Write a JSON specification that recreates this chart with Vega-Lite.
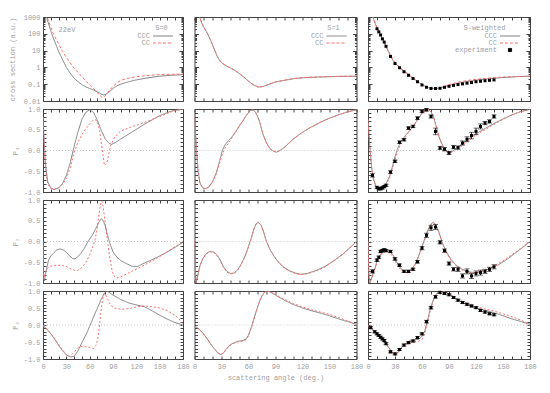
{
"$schema": "https://vega.github.io/schema/vega-lite/v6.json",
"background": "white",
"padding": {"left": 7, "top": 12, "right": 5, "bottom": 5},
"config": {
 "view": {"stroke": "#444", "strokeWidth": 1},
 "axis": {"labelFont": "Liberation Mono", "labelFontSize": 7, "labelColor": "#a0a0a0", "titleFont": "Liberation Mono", "titleFontSize": 7, "titleColor": "#a0a0a0", "titleFontWeight": "normal", "tickColor": "#444", "tickSize": -3, "domain": false, "grid": false, "labelPadding": 6, "labelFlush": false, "labelOverlap": false},
 "legend": {"orient": "top-right", "offset": 7, "padding": 0, "rowPadding": 0, "titleFont": "Liberation Mono", "titleFontSize": 7, "titleFontWeight": "normal", "titleColor": "#a0a0a0", "titleAnchor": "middle", "titlePadding": 1, "labelFont": "Liberation Mono", "labelFontSize": 7, "labelColor": "#a0a0a0", "labelAlign": "right", "labelOffset": -17, "symbolSize": 49, "symbolStrokeWidth": 1}
},
"datasets": {
 "cs0": [
  {"angle":0,"value":3000,"model":"CCC"},{"angle":3,"value":1500,"model":"CCC"},{"angle":5,"value":800,"model":"CCC"},{"angle":8,"value":300,"model":"CCC"},{"angle":10,"value":150,"model":"CCC"},{"angle":13,"value":60,"model":"CCC"},{"angle":15,"value":35,"model":"CCC"},{"angle":18,"value":16,"model":"CCC"},{"angle":20,"value":9,"model":"CCC"},{"angle":25,"value":3,"model":"CCC"},{"angle":30,"value":1.0,"model":"CCC"},{"angle":35,"value":0.45,"model":"CCC"},{"angle":40,"value":0.23,"model":"CCC"},{"angle":45,"value":0.14,"model":"CCC"},{"angle":50,"value":0.095,"model":"CCC"},{"angle":55,"value":0.07,"model":"CCC"},{"angle":60,"value":0.055,"model":"CCC"},{"angle":65,"value":0.045,"model":"CCC"},{"angle":70,"value":0.035,"model":"CCC"},{"angle":75,"value":0.026,"model":"CCC"},{"angle":78,"value":0.023,"model":"CCC"},{"angle":81,"value":0.025,"model":"CCC"},{"angle":85,"value":0.035,"model":"CCC"},{"angle":90,"value":0.055,"model":"CCC"},{"angle":95,"value":0.08,"model":"CCC"},{"angle":100,"value":0.1,"model":"CCC"},{"angle":110,"value":0.14,"model":"CCC"},{"angle":120,"value":0.18,"model":"CCC"},{"angle":135,"value":0.24,"model":"CCC"},{"angle":150,"value":0.3,"model":"CCC"},{"angle":165,"value":0.34,"model":"CCC"},{"angle":180,"value":0.37,"model":"CCC"},
  {"angle":0,"value":3000,"model":"CC"},{"angle":3,"value":1800,"model":"CC"},{"angle":5,"value":1000,"model":"CC"},{"angle":8,"value":450,"model":"CC"},{"angle":10,"value":250,"model":"CC"},{"angle":13,"value":110,"model":"CC"},{"angle":15,"value":70,"model":"CC"},{"angle":18,"value":38,"model":"CC"},{"angle":20,"value":25,"model":"CC"},{"angle":25,"value":9,"model":"CC"},{"angle":30,"value":4,"model":"CC"},{"angle":35,"value":1.8,"model":"CC"},{"angle":40,"value":0.9,"model":"CC"},{"angle":45,"value":0.5,"model":"CC"},{"angle":50,"value":0.28,"model":"CC"},{"angle":55,"value":0.16,"model":"CC"},{"angle":60,"value":0.09,"model":"CC"},{"angle":65,"value":0.055,"model":"CC"},{"angle":70,"value":0.032,"model":"CC"},{"angle":73,"value":0.022,"model":"CC"},{"angle":76,"value":0.016,"model":"CC"},{"angle":79,"value":0.018,"model":"CC"},{"angle":83,"value":0.03,"model":"CC"},{"angle":88,"value":0.06,"model":"CC"},{"angle":95,"value":0.12,"model":"CC"},{"angle":100,"value":0.17,"model":"CC"},{"angle":110,"value":0.23,"model":"CC"},{"angle":120,"value":0.28,"model":"CC"},{"angle":135,"value":0.33,"model":"CC"},{"angle":150,"value":0.37,"model":"CC"},{"angle":165,"value":0.39,"model":"CC"},{"angle":180,"value":0.4,"model":"CC"}
 ],
 "cs1": [
  {"angle":0,"value":5000,"model":"CCC"},{"angle":3,"value":2500,"model":"CCC"},{"angle":5,"value":1200,"model":"CCC"},{"angle":8,"value":450,"model":"CCC"},{"angle":10,"value":260,"model":"CCC"},{"angle":13,"value":140,"model":"CCC"},{"angle":15,"value":90,"model":"CCC"},{"angle":18,"value":40,"model":"CCC"},{"angle":20,"value":22,"model":"CCC"},{"angle":23,"value":9,"model":"CCC"},{"angle":25,"value":4.8,"model":"CCC"},{"angle":28,"value":2.6,"model":"CCC"},{"angle":30,"value":1.9,"model":"CCC"},{"angle":35,"value":1.25,"model":"CCC"},{"angle":40,"value":0.92,"model":"CCC"},{"angle":45,"value":0.65,"model":"CCC"},{"angle":50,"value":0.42,"model":"CCC"},{"angle":55,"value":0.26,"model":"CCC"},{"angle":60,"value":0.15,"model":"CCC"},{"angle":65,"value":0.095,"model":"CCC"},{"angle":70,"value":0.07,"model":"CCC"},{"angle":73,"value":0.068,"model":"CCC"},{"angle":77,"value":0.075,"model":"CCC"},{"angle":82,"value":0.095,"model":"CCC"},{"angle":90,"value":0.135,"model":"CCC"},{"angle":100,"value":0.17,"model":"CCC"},{"angle":112,"value":0.22,"model":"CCC"},{"angle":125,"value":0.25,"model":"CCC"},{"angle":140,"value":0.27,"model":"CCC"},{"angle":160,"value":0.29,"model":"CCC"},{"angle":180,"value":0.3,"model":"CCC"},
  {"angle":0,"value":5000,"model":"CC"},{"angle":3,"value":2500,"model":"CC"},{"angle":5,"value":1200,"model":"CC"},{"angle":8,"value":460,"model":"CC"},{"angle":10,"value":265,"model":"CC"},{"angle":13,"value":142,"model":"CC"},{"angle":15,"value":92,"model":"CC"},{"angle":18,"value":41,"model":"CC"},{"angle":20,"value":22,"model":"CC"},{"angle":23,"value":9.2,"model":"CC"},{"angle":25,"value":4.9,"model":"CC"},{"angle":28,"value":2.65,"model":"CC"},{"angle":30,"value":1.95,"model":"CC"},{"angle":35,"value":1.28,"model":"CC"},{"angle":40,"value":0.94,"model":"CC"},{"angle":45,"value":0.66,"model":"CC"},{"angle":50,"value":0.43,"model":"CC"},{"angle":55,"value":0.26,"model":"CC"},{"angle":60,"value":0.15,"model":"CC"},{"angle":65,"value":0.095,"model":"CC"},{"angle":70,"value":0.07,"model":"CC"},{"angle":73,"value":0.068,"model":"CC"},{"angle":77,"value":0.076,"model":"CC"},{"angle":82,"value":0.097,"model":"CC"},{"angle":90,"value":0.138,"model":"CC"},{"angle":100,"value":0.175,"model":"CC"},{"angle":112,"value":0.225,"model":"CC"},{"angle":125,"value":0.255,"model":"CC"},{"angle":140,"value":0.275,"model":"CC"},{"angle":160,"value":0.295,"model":"CC"},{"angle":180,"value":0.3,"model":"CC"}
 ],
 "csw": [
  {"angle":0,"value":4000,"model":"CCC"},{"angle":3,"value":2200,"model":"CCC"},{"angle":5,"value":1100,"model":"CCC"},{"angle":8,"value":400,"model":"CCC"},{"angle":10,"value":220,"model":"CCC"},{"angle":13,"value":110,"model":"CCC"},{"angle":15,"value":65,"model":"CCC"},{"angle":18,"value":30,"model":"CCC"},{"angle":20,"value":17,"model":"CCC"},{"angle":23,"value":8,"model":"CCC"},{"angle":25,"value":4.8,"model":"CCC"},{"angle":28,"value":2.5,"model":"CCC"},{"angle":30,"value":1.8,"model":"CCC"},{"angle":35,"value":0.98,"model":"CCC"},{"angle":40,"value":0.58,"model":"CCC"},{"angle":45,"value":0.37,"model":"CCC"},{"angle":50,"value":0.23,"model":"CCC"},{"angle":55,"value":0.145,"model":"CCC"},{"angle":60,"value":0.095,"model":"CCC"},{"angle":65,"value":0.068,"model":"CCC"},{"angle":70,"value":0.057,"model":"CCC"},{"angle":75,"value":0.055,"model":"CCC"},{"angle":80,"value":0.06,"model":"CCC"},{"angle":85,"value":0.07,"model":"CCC"},{"angle":90,"value":0.085,"model":"CCC"},{"angle":100,"value":0.115,"model":"CCC"},{"angle":110,"value":0.145,"model":"CCC"},{"angle":120,"value":0.175,"model":"CCC"},{"angle":135,"value":0.215,"model":"CCC"},{"angle":150,"value":0.25,"model":"CCC"},{"angle":165,"value":0.28,"model":"CCC"},{"angle":180,"value":0.3,"model":"CCC"},
  {"angle":0,"value":4000,"model":"CC"},{"angle":3,"value":2300,"model":"CC"},{"angle":5,"value":1200,"model":"CC"},{"angle":8,"value":450,"model":"CC"},{"angle":10,"value":250,"model":"CC"},{"angle":13,"value":120,"model":"CC"},{"angle":15,"value":72,"model":"CC"},{"angle":18,"value":34,"model":"CC"},{"angle":20,"value":19,"model":"CC"},{"angle":23,"value":9,"model":"CC"},{"angle":25,"value":5.3,"model":"CC"},{"angle":28,"value":2.8,"model":"CC"},{"angle":30,"value":2.0,"model":"CC"},{"angle":35,"value":1.05,"model":"CC"},{"angle":40,"value":0.62,"model":"CC"},{"angle":45,"value":0.39,"model":"CC"},{"angle":50,"value":0.24,"model":"CC"},{"angle":55,"value":0.15,"model":"CC"},{"angle":60,"value":0.095,"model":"CC"},{"angle":65,"value":0.066,"model":"CC"},{"angle":70,"value":0.055,"model":"CC"},{"angle":75,"value":0.054,"model":"CC"},{"angle":80,"value":0.062,"model":"CC"},{"angle":85,"value":0.075,"model":"CC"},{"angle":90,"value":0.095,"model":"CC"},{"angle":100,"value":0.13,"model":"CC"},{"angle":110,"value":0.165,"model":"CC"},{"angle":120,"value":0.195,"model":"CC"},{"angle":135,"value":0.235,"model":"CC"},{"angle":150,"value":0.265,"model":"CC"},{"angle":165,"value":0.285,"model":"CC"},{"angle":180,"value":0.3,"model":"CC"}
 ],
 "ex_cs": [
  {"angle":10,"value":200},{"angle":12,"value":130},{"angle":14,"value":85},{"angle":16,"value":50},{"angle":18,"value":32},{"angle":20,"value":18},{"angle":25,"value":4.5},{"angle":30,"value":1.7},{"angle":35,"value":0.95},{"angle":40,"value":0.55},{"angle":45,"value":0.34},{"angle":50,"value":0.22},{"angle":55,"value":0.14},{"angle":60,"value":0.09},{"angle":65,"value":0.066},{"angle":70,"value":0.056},{"angle":75,"value":0.055},{"angle":80,"value":0.057},{"angle":85,"value":0.065},{"angle":90,"value":0.075},{"angle":95,"value":0.085},{"angle":100,"value":0.095},{"angle":105,"value":0.105},{"angle":110,"value":0.115},{"angle":115,"value":0.125},{"angle":120,"value":0.14},{"angle":125,"value":0.15},{"angle":130,"value":0.16},{"angle":135,"value":0.17},{"angle":140,"value":0.18}
 ],
 "p1_0": [
  {"angle":0,"value":0.8,"model":"CCC"},{"angle":3,"value":-0.3,"model":"CCC"},{"angle":6,"value":-0.75,"model":"CCC"},{"angle":10,"value":-0.9,"model":"CCC"},{"angle":14,"value":-0.94,"model":"CCC"},{"angle":20,"value":-0.9,"model":"CCC"},{"angle":25,"value":-0.8,"model":"CCC"},{"angle":30,"value":-0.6,"model":"CCC"},{"angle":35,"value":-0.3,"model":"CCC"},{"angle":40,"value":0.1,"model":"CCC"},{"angle":45,"value":0.45,"model":"CCC"},{"angle":50,"value":0.75,"model":"CCC"},{"angle":55,"value":0.92,"model":"CCC"},{"angle":60,"value":0.98,"model":"CCC"},{"angle":65,"value":0.92,"model":"CCC"},{"angle":70,"value":0.72,"model":"CCC"},{"angle":75,"value":0.48,"model":"CCC"},{"angle":80,"value":0.28,"model":"CCC"},{"angle":85,"value":0.17,"model":"CCC"},{"angle":88,"value":0.15,"model":"CCC"},{"angle":92,"value":0.18,"model":"CCC"},{"angle":100,"value":0.28,"model":"CCC"},{"angle":115,"value":0.45,"model":"CCC"},{"angle":130,"value":0.63,"model":"CCC"},{"angle":150,"value":0.84,"model":"CCC"},{"angle":165,"value":0.95,"model":"CCC"},{"angle":180,"value":1.0,"model":"CCC"},
  {"angle":0,"value":0.8,"model":"CC"},{"angle":3,"value":-0.4,"model":"CC"},{"angle":6,"value":-0.8,"model":"CC"},{"angle":10,"value":-0.92,"model":"CC"},{"angle":14,"value":-0.94,"model":"CC"},{"angle":20,"value":-0.9,"model":"CC"},{"angle":25,"value":-0.82,"model":"CC"},{"angle":30,"value":-0.68,"model":"CC"},{"angle":35,"value":-0.42,"model":"CC"},{"angle":40,"value":-0.05,"model":"CC"},{"angle":45,"value":0.2,"model":"CC"},{"angle":50,"value":0.38,"model":"CC"},{"angle":55,"value":0.52,"model":"CC"},{"angle":60,"value":0.64,"model":"CC"},{"angle":65,"value":0.74,"model":"CC"},{"angle":68,"value":0.74,"model":"CC"},{"angle":71,"value":0.62,"model":"CC"},{"angle":73,"value":0.45,"model":"CC"},{"angle":76,"value":0.05,"model":"CC"},{"angle":79,"value":-0.36,"model":"CC"},{"angle":82,"value":-0.3,"model":"CC"},{"angle":87,"value":0.12,"model":"CC"},{"angle":92,"value":0.32,"model":"CC"},{"angle":100,"value":0.47,"model":"CC"},{"angle":115,"value":0.58,"model":"CC"},{"angle":130,"value":0.67,"model":"CC"},{"angle":150,"value":0.82,"model":"CC"},{"angle":165,"value":0.93,"model":"CC"},{"angle":180,"value":1.0,"model":"CC"}
 ],
 "p1_1": [
  {"angle":0,"value":0.8,"model":"CCC"},{"angle":2,"value":0.1,"model":"CCC"},{"angle":4,"value":-0.5,"model":"CCC"},{"angle":6,"value":-0.78,"model":"CCC"},{"angle":9,"value":-0.9,"model":"CCC"},{"angle":12,"value":-0.92,"model":"CCC"},{"angle":16,"value":-0.88,"model":"CCC"},{"angle":20,"value":-0.75,"model":"CCC"},{"angle":24,"value":-0.55,"model":"CCC"},{"angle":28,"value":-0.25,"model":"CCC"},{"angle":31,"value":0.0,"model":"CCC"},{"angle":34,"value":0.14,"model":"CCC"},{"angle":38,"value":0.24,"model":"CCC"},{"angle":42,"value":0.34,"model":"CCC"},{"angle":46,"value":0.46,"model":"CCC"},{"angle":50,"value":0.6,"model":"CCC"},{"angle":54,"value":0.72,"model":"CCC"},{"angle":58,"value":0.86,"model":"CCC"},{"angle":62,"value":0.96,"model":"CCC"},{"angle":65,"value":0.98,"model":"CCC"},{"angle":68,"value":0.92,"model":"CCC"},{"angle":72,"value":0.72,"model":"CCC"},{"angle":76,"value":0.4,"model":"CCC"},{"angle":80,"value":0.18,"model":"CCC"},{"angle":84,"value":0.04,"model":"CCC"},{"angle":88,"value":-0.02,"model":"CCC"},{"angle":91,"value":-0.04,"model":"CCC"},{"angle":95,"value":0.0,"model":"CCC"},{"angle":100,"value":0.08,"model":"CCC"},{"angle":110,"value":0.28,"model":"CCC"},{"angle":120,"value":0.44,"model":"CCC"},{"angle":130,"value":0.57,"model":"CCC"},{"angle":140,"value":0.68,"model":"CCC"},{"angle":150,"value":0.78,"model":"CCC"},{"angle":160,"value":0.86,"model":"CCC"},{"angle":170,"value":0.93,"model":"CCC"},{"angle":180,"value":0.98,"model":"CCC"},
  {"angle":0,"value":0.8,"model":"CC"},{"angle":2,"value":0.1,"model":"CC"},{"angle":4,"value":-0.5,"model":"CC"},{"angle":6,"value":-0.78,"model":"CC"},{"angle":9,"value":-0.9,"model":"CC"},{"angle":12,"value":-0.92,"model":"CC"},{"angle":16,"value":-0.88,"model":"CC"},{"angle":20,"value":-0.76,"model":"CC"},{"angle":24,"value":-0.58,"model":"CC"},{"angle":28,"value":-0.3,"model":"CC"},{"angle":31,"value":-0.08,"model":"CC"},{"angle":34,"value":0.06,"model":"CC"},{"angle":38,"value":0.18,"model":"CC"},{"angle":42,"value":0.32,"model":"CC"},{"angle":46,"value":0.46,"model":"CC"},{"angle":50,"value":0.6,"model":"CC"},{"angle":54,"value":0.72,"model":"CC"},{"angle":58,"value":0.86,"model":"CC"},{"angle":62,"value":0.96,"model":"CC"},{"angle":65,"value":0.98,"model":"CC"},{"angle":68,"value":0.92,"model":"CC"},{"angle":72,"value":0.72,"model":"CC"},{"angle":76,"value":0.4,"model":"CC"},{"angle":80,"value":0.18,"model":"CC"},{"angle":84,"value":0.04,"model":"CC"},{"angle":88,"value":-0.02,"model":"CC"},{"angle":91,"value":-0.04,"model":"CC"},{"angle":95,"value":0.0,"model":"CC"},{"angle":100,"value":0.08,"model":"CC"},{"angle":110,"value":0.28,"model":"CC"},{"angle":120,"value":0.44,"model":"CC"},{"angle":130,"value":0.57,"model":"CC"},{"angle":140,"value":0.68,"model":"CC"},{"angle":150,"value":0.78,"model":"CC"},{"angle":160,"value":0.86,"model":"CC"},{"angle":170,"value":0.93,"model":"CC"},{"angle":180,"value":0.98,"model":"CC"}
 ],
 "p1_w": [
  {"angle":0,"value":0.75,"model":"CCC"},{"angle":2,"value":0.1,"model":"CCC"},{"angle":4,"value":-0.4,"model":"CCC"},{"angle":6,"value":-0.68,"model":"CCC"},{"angle":9,"value":-0.87,"model":"CCC"},{"angle":12,"value":-0.92,"model":"CCC"},{"angle":16,"value":-0.91,"model":"CCC"},{"angle":20,"value":-0.8,"model":"CCC"},{"angle":24,"value":-0.62,"model":"CCC"},{"angle":27,"value":-0.4,"model":"CCC"},{"angle":30,"value":-0.15,"model":"CCC"},{"angle":33,"value":0.05,"model":"CCC"},{"angle":36,"value":0.2,"model":"CCC"},{"angle":40,"value":0.32,"model":"CCC"},{"angle":45,"value":0.45,"model":"CCC"},{"angle":50,"value":0.58,"model":"CCC"},{"angle":55,"value":0.74,"model":"CCC"},{"angle":60,"value":0.9,"model":"CCC"},{"angle":64,"value":0.98,"model":"CCC"},{"angle":67,"value":0.99,"model":"CCC"},{"angle":70,"value":0.93,"model":"CCC"},{"angle":73,"value":0.8,"model":"CCC"},{"angle":76,"value":0.56,"model":"CCC"},{"angle":79,"value":0.32,"model":"CCC"},{"angle":83,"value":0.12,"model":"CCC"},{"angle":87,"value":0.0,"model":"CCC"},{"angle":90,"value":-0.04,"model":"CCC"},{"angle":94,"value":-0.02,"model":"CCC"},{"angle":98,"value":0.05,"model":"CCC"},{"angle":105,"value":0.16,"model":"CCC"},{"angle":113,"value":0.3,"model":"CCC"},{"angle":120,"value":0.4,"model":"CCC"},{"angle":130,"value":0.53,"model":"CCC"},{"angle":140,"value":0.65,"model":"CCC"},{"angle":150,"value":0.76,"model":"CCC"},{"angle":160,"value":0.86,"model":"CCC"},{"angle":170,"value":0.94,"model":"CCC"},{"angle":180,"value":0.99,"model":"CCC"},
  {"angle":0,"value":0.75,"model":"CC"},{"angle":2,"value":0.1,"model":"CC"},{"angle":4,"value":-0.42,"model":"CC"},{"angle":6,"value":-0.7,"model":"CC"},{"angle":9,"value":-0.88,"model":"CC"},{"angle":12,"value":-0.93,"model":"CC"},{"angle":16,"value":-0.92,"model":"CC"},{"angle":20,"value":-0.83,"model":"CC"},{"angle":24,"value":-0.66,"model":"CC"},{"angle":27,"value":-0.45,"model":"CC"},{"angle":30,"value":-0.22,"model":"CC"},{"angle":33,"value":-0.02,"model":"CC"},{"angle":36,"value":0.14,"model":"CC"},{"angle":40,"value":0.28,"model":"CC"},{"angle":45,"value":0.43,"model":"CC"},{"angle":50,"value":0.57,"model":"CC"},{"angle":55,"value":0.73,"model":"CC"},{"angle":60,"value":0.89,"model":"CC"},{"angle":64,"value":0.97,"model":"CC"},{"angle":67,"value":0.99,"model":"CC"},{"angle":70,"value":0.94,"model":"CC"},{"angle":73,"value":0.82,"model":"CC"},{"angle":76,"value":0.58,"model":"CC"},{"angle":79,"value":0.33,"model":"CC"},{"angle":83,"value":0.1,"model":"CC"},{"angle":87,"value":-0.03,"model":"CC"},{"angle":90,"value":-0.06,"model":"CC"},{"angle":94,"value":-0.04,"model":"CC"},{"angle":98,"value":0.02,"model":"CC"},{"angle":105,"value":0.12,"model":"CC"},{"angle":113,"value":0.26,"model":"CC"},{"angle":120,"value":0.37,"model":"CC"},{"angle":130,"value":0.5,"model":"CC"},{"angle":140,"value":0.63,"model":"CC"},{"angle":150,"value":0.75,"model":"CC"},{"angle":160,"value":0.86,"model":"CC"},{"angle":170,"value":0.94,"model":"CC"},{"angle":180,"value":0.99,"model":"CC"}
 ],
 "ex_p1": [
  {"angle":5,"value":-0.6,"err":0.04},{"angle":10,"value":-0.89,"err":0.03},{"angle":12,"value":-0.92,"err":0.03},{"angle":14,"value":-0.92,"err":0.03},{"angle":16,"value":-0.9,"err":0.03},{"angle":18,"value":-0.87,"err":0.03},{"angle":20,"value":-0.84,"err":0.03},{"angle":25,"value":-0.52,"err":0.03},{"angle":30,"value":-0.26,"err":0.03},{"angle":35,"value":0.2,"err":0.03},{"angle":40,"value":0.26,"err":0.03},{"angle":45,"value":0.54,"err":0.03},{"angle":50,"value":0.58,"err":0.03},{"angle":55,"value":0.78,"err":0.03},{"angle":60,"value":0.94,"err":0.03},{"angle":65,"value":0.98,"err":0.03},{"angle":70,"value":0.82,"err":0.04},{"angle":75,"value":0.46,"err":0.08},{"angle":80,"value":0.06,"err":0.04},{"angle":85,"value":0.03,"err":0.04},{"angle":90,"value":-0.06,"err":0.04},{"angle":95,"value":0.08,"err":0.04},{"angle":100,"value":0.07,"err":0.04},{"angle":105,"value":0.18,"err":0.05},{"angle":110,"value":0.27,"err":0.06},{"angle":115,"value":0.36,"err":0.08},{"angle":120,"value":0.46,"err":0.08},{"angle":125,"value":0.58,"err":0.06},{"angle":130,"value":0.66,"err":0.04},{"angle":135,"value":0.7,"err":0.04},{"angle":140,"value":0.82,"err":0.04}
 ],
 "p2_0": [
  {"angle":0,"value":0.0,"model":"CCC"},{"angle":1,"value":-0.9,"model":"CCC"},{"angle":2,"value":-0.95,"model":"CCC"},{"angle":4,"value":-0.7,"model":"CCC"},{"angle":7,"value":-0.46,"model":"CCC"},{"angle":10,"value":-0.35,"model":"CCC"},{"angle":14,"value":-0.27,"model":"CCC"},{"angle":18,"value":-0.2,"model":"CCC"},{"angle":22,"value":-0.18,"model":"CCC"},{"angle":26,"value":-0.2,"model":"CCC"},{"angle":30,"value":-0.26,"model":"CCC"},{"angle":34,"value":-0.34,"model":"CCC"},{"angle":38,"value":-0.41,"model":"CCC"},{"angle":41,"value":-0.42,"model":"CCC"},{"angle":44,"value":-0.38,"model":"CCC"},{"angle":48,"value":-0.3,"model":"CCC"},{"angle":52,"value":-0.2,"model":"CCC"},{"angle":56,"value":-0.06,"model":"CCC"},{"angle":60,"value":0.06,"model":"CCC"},{"angle":64,"value":0.17,"model":"CCC"},{"angle":68,"value":0.32,"model":"CCC"},{"angle":72,"value":0.47,"model":"CCC"},{"angle":75,"value":0.55,"model":"CCC"},{"angle":77,"value":0.52,"model":"CCC"},{"angle":80,"value":0.38,"model":"CCC"},{"angle":83,"value":0.15,"model":"CCC"},{"angle":86,"value":-0.05,"model":"CCC"},{"angle":90,"value":-0.25,"model":"CCC"},{"angle":95,"value":-0.38,"model":"CCC"},{"angle":100,"value":-0.46,"model":"CCC"},{"angle":108,"value":-0.54,"model":"CCC"},{"angle":115,"value":-0.6,"model":"CCC"},{"angle":122,"value":-0.6,"model":"CCC"},{"angle":130,"value":-0.52,"model":"CCC"},{"angle":140,"value":-0.44,"model":"CCC"},{"angle":150,"value":-0.35,"model":"CCC"},{"angle":160,"value":-0.25,"model":"CCC"},{"angle":170,"value":-0.14,"model":"CCC"},{"angle":180,"value":-0.02,"model":"CCC"},
  {"angle":0,"value":0.0,"model":"CC"},{"angle":1,"value":-0.9,"model":"CC"},{"angle":3,"value":-0.75,"model":"CC"},{"angle":7,"value":-0.62,"model":"CC"},{"angle":12,"value":-0.58,"model":"CC"},{"angle":18,"value":-0.57,"model":"CC"},{"angle":25,"value":-0.58,"model":"CC"},{"angle":30,"value":-0.6,"model":"CC"},{"angle":35,"value":-0.65,"model":"CC"},{"angle":40,"value":-0.69,"model":"CC"},{"angle":44,"value":-0.7,"model":"CC"},{"angle":48,"value":-0.66,"model":"CC"},{"angle":52,"value":-0.58,"model":"CC"},{"angle":56,"value":-0.47,"model":"CC"},{"angle":60,"value":-0.32,"model":"CC"},{"angle":64,"value":-0.12,"model":"CC"},{"angle":67,"value":0.05,"model":"CC"},{"angle":70,"value":0.35,"model":"CC"},{"angle":72,"value":0.65,"model":"CC"},{"angle":74,"value":0.9,"model":"CC"},{"angle":75.5,"value":0.98,"model":"CC"},{"angle":77,"value":0.88,"model":"CC"},{"angle":79,"value":0.6,"model":"CC"},{"angle":81,"value":0.3,"model":"CC"},{"angle":83,"value":0.0,"model":"CC"},{"angle":86,"value":-0.4,"model":"CC"},{"angle":89,"value":-0.72,"model":"CC"},{"angle":92,"value":-0.85,"model":"CC"},{"angle":95,"value":-0.88,"model":"CC"},{"angle":100,"value":-0.85,"model":"CC"},{"angle":108,"value":-0.78,"model":"CC"},{"angle":115,"value":-0.71,"model":"CC"},{"angle":125,"value":-0.62,"model":"CC"},{"angle":135,"value":-0.52,"model":"CC"},{"angle":145,"value":-0.42,"model":"CC"},{"angle":155,"value":-0.3,"model":"CC"},{"angle":165,"value":-0.18,"model":"CC"},{"angle":172,"value":-0.1,"model":"CC"},{"angle":180,"value":0.0,"model":"CC"}
 ],
 "p2_1": [
  {"angle":0,"value":0.0,"model":"CCC"},{"angle":1,"value":-0.8,"model":"CCC"},{"angle":2,"value":-0.99,"model":"CCC"},{"angle":4,"value":-0.78,"model":"CCC"},{"angle":6,"value":-0.58,"model":"CCC"},{"angle":9,"value":-0.42,"model":"CCC"},{"angle":12,"value":-0.32,"model":"CCC"},{"angle":15,"value":-0.26,"model":"CCC"},{"angle":18,"value":-0.24,"model":"CCC"},{"angle":21,"value":-0.25,"model":"CCC"},{"angle":24,"value":-0.3,"model":"CCC"},{"angle":28,"value":-0.42,"model":"CCC"},{"angle":32,"value":-0.6,"model":"CCC"},{"angle":36,"value":-0.72,"model":"CCC"},{"angle":40,"value":-0.77,"model":"CCC"},{"angle":44,"value":-0.76,"model":"CCC"},{"angle":48,"value":-0.68,"model":"CCC"},{"angle":52,"value":-0.54,"model":"CCC"},{"angle":56,"value":-0.36,"model":"CCC"},{"angle":60,"value":-0.12,"model":"CCC"},{"angle":63,"value":0.08,"model":"CCC"},{"angle":66,"value":0.3,"model":"CCC"},{"angle":68.5,"value":0.43,"model":"CCC"},{"angle":71,"value":0.46,"model":"CCC"},{"angle":74,"value":0.4,"model":"CCC"},{"angle":77,"value":0.22,"model":"CCC"},{"angle":80,"value":0.0,"model":"CCC"},{"angle":84,"value":-0.2,"model":"CCC"},{"angle":88,"value":-0.34,"model":"CCC"},{"angle":92,"value":-0.46,"model":"CCC"},{"angle":98,"value":-0.6,"model":"CCC"},{"angle":105,"value":-0.7,"model":"CCC"},{"angle":112,"value":-0.76,"model":"CCC"},{"angle":118,"value":-0.79,"model":"CCC"},{"angle":125,"value":-0.77,"model":"CCC"},{"angle":135,"value":-0.7,"model":"CCC"},{"angle":145,"value":-0.6,"model":"CCC"},{"angle":155,"value":-0.46,"model":"CCC"},{"angle":165,"value":-0.3,"model":"CCC"},{"angle":172,"value":-0.16,"model":"CCC"},{"angle":180,"value":0.0,"model":"CCC"},
  {"angle":0,"value":0.0,"model":"CC"},{"angle":1,"value":-0.8,"model":"CC"},{"angle":2,"value":-0.99,"model":"CC"},{"angle":4,"value":-0.79,"model":"CC"},{"angle":6,"value":-0.6,"model":"CC"},{"angle":9,"value":-0.43,"model":"CC"},{"angle":12,"value":-0.33,"model":"CC"},{"angle":15,"value":-0.27,"model":"CC"},{"angle":18,"value":-0.25,"model":"CC"},{"angle":21,"value":-0.26,"model":"CC"},{"angle":24,"value":-0.31,"model":"CC"},{"angle":28,"value":-0.44,"model":"CC"},{"angle":32,"value":-0.62,"model":"CC"},{"angle":36,"value":-0.74,"model":"CC"},{"angle":40,"value":-0.78,"model":"CC"},{"angle":44,"value":-0.77,"model":"CC"},{"angle":48,"value":-0.69,"model":"CC"},{"angle":52,"value":-0.55,"model":"CC"},{"angle":56,"value":-0.37,"model":"CC"},{"angle":60,"value":-0.13,"model":"CC"},{"angle":63,"value":0.07,"model":"CC"},{"angle":66,"value":0.29,"model":"CC"},{"angle":68.5,"value":0.42,"model":"CC"},{"angle":71,"value":0.45,"model":"CC"},{"angle":74,"value":0.39,"model":"CC"},{"angle":77,"value":0.21,"model":"CC"},{"angle":80,"value":0.0,"model":"CC"},{"angle":84,"value":-0.2,"model":"CC"},{"angle":88,"value":-0.35,"model":"CC"},{"angle":92,"value":-0.47,"model":"CC"},{"angle":98,"value":-0.61,"model":"CC"},{"angle":105,"value":-0.71,"model":"CC"},{"angle":112,"value":-0.77,"model":"CC"},{"angle":118,"value":-0.8,"model":"CC"},{"angle":125,"value":-0.78,"model":"CC"},{"angle":135,"value":-0.71,"model":"CC"},{"angle":145,"value":-0.61,"model":"CC"},{"angle":155,"value":-0.47,"model":"CC"},{"angle":165,"value":-0.31,"model":"CC"},{"angle":172,"value":-0.17,"model":"CC"},{"angle":180,"value":0.0,"model":"CC"}
 ],
 "p2_w": [
  {"angle":0,"value":0.0,"model":"CCC"},{"angle":1,"value":-0.8,"model":"CCC"},{"angle":2,"value":-1.0,"model":"CCC"},{"angle":4,"value":-0.88,"model":"CCC"},{"angle":7,"value":-0.7,"model":"CCC"},{"angle":10,"value":-0.48,"model":"CCC"},{"angle":13,"value":-0.34,"model":"CCC"},{"angle":16,"value":-0.26,"model":"CCC"},{"angle":20,"value":-0.22,"model":"CCC"},{"angle":24,"value":-0.24,"model":"CCC"},{"angle":28,"value":-0.33,"model":"CCC"},{"angle":32,"value":-0.5,"model":"CCC"},{"angle":36,"value":-0.64,"model":"CCC"},{"angle":40,"value":-0.72,"model":"CCC"},{"angle":44,"value":-0.74,"model":"CCC"},{"angle":48,"value":-0.68,"model":"CCC"},{"angle":52,"value":-0.56,"model":"CCC"},{"angle":56,"value":-0.36,"model":"CCC"},{"angle":60,"value":-0.12,"model":"CCC"},{"angle":64,"value":0.12,"model":"CCC"},{"angle":67,"value":0.3,"model":"CCC"},{"angle":70,"value":0.42,"model":"CCC"},{"angle":72.5,"value":0.46,"model":"CCC"},{"angle":75,"value":0.42,"model":"CCC"},{"angle":78,"value":0.28,"model":"CCC"},{"angle":81,"value":0.08,"model":"CCC"},{"angle":84,"value":-0.1,"model":"CCC"},{"angle":88,"value":-0.28,"model":"CCC"},{"angle":92,"value":-0.43,"model":"CCC"},{"angle":97,"value":-0.55,"model":"CCC"},{"angle":102,"value":-0.64,"model":"CCC"},{"angle":108,"value":-0.7,"model":"CCC"},{"angle":114,"value":-0.74,"model":"CCC"},{"angle":120,"value":-0.75,"model":"CCC"},{"angle":127,"value":-0.72,"model":"CCC"},{"angle":135,"value":-0.66,"model":"CCC"},{"angle":145,"value":-0.56,"model":"CCC"},{"angle":155,"value":-0.42,"model":"CCC"},{"angle":165,"value":-0.26,"model":"CCC"},{"angle":172,"value":-0.14,"model":"CCC"},{"angle":180,"value":0.0,"model":"CCC"},
  {"angle":0,"value":0.0,"model":"CC"},{"angle":1,"value":-0.8,"model":"CC"},{"angle":2,"value":-1.0,"model":"CC"},{"angle":4,"value":-0.9,"model":"CC"},{"angle":7,"value":-0.72,"model":"CC"},{"angle":10,"value":-0.5,"model":"CC"},{"angle":13,"value":-0.36,"model":"CC"},{"angle":16,"value":-0.28,"model":"CC"},{"angle":20,"value":-0.24,"model":"CC"},{"angle":24,"value":-0.27,"model":"CC"},{"angle":28,"value":-0.37,"model":"CC"},{"angle":32,"value":-0.54,"model":"CC"},{"angle":36,"value":-0.67,"model":"CC"},{"angle":40,"value":-0.74,"model":"CC"},{"angle":44,"value":-0.76,"model":"CC"},{"angle":48,"value":-0.7,"model":"CC"},{"angle":52,"value":-0.58,"model":"CC"},{"angle":56,"value":-0.39,"model":"CC"},{"angle":60,"value":-0.15,"model":"CC"},{"angle":64,"value":0.1,"model":"CC"},{"angle":67,"value":0.28,"model":"CC"},{"angle":70,"value":0.41,"model":"CC"},{"angle":72.5,"value":0.45,"model":"CC"},{"angle":75,"value":0.41,"model":"CC"},{"angle":78,"value":0.26,"model":"CC"},{"angle":81,"value":0.06,"model":"CC"},{"angle":84,"value":-0.12,"model":"CC"},{"angle":88,"value":-0.3,"model":"CC"},{"angle":92,"value":-0.45,"model":"CC"},{"angle":97,"value":-0.57,"model":"CC"},{"angle":102,"value":-0.66,"model":"CC"},{"angle":108,"value":-0.72,"model":"CC"},{"angle":114,"value":-0.75,"model":"CC"},{"angle":120,"value":-0.75,"model":"CC"},{"angle":127,"value":-0.71,"model":"CC"},{"angle":135,"value":-0.64,"model":"CC"},{"angle":145,"value":-0.53,"model":"CC"},{"angle":155,"value":-0.39,"model":"CC"},{"angle":165,"value":-0.24,"model":"CC"},{"angle":172,"value":-0.13,"model":"CC"},{"angle":180,"value":0.0,"model":"CC"}
 ],
 "ex_p2": [
  {"angle":5,"value":-0.72,"err":0.04},{"angle":10,"value":-0.45,"err":0.03},{"angle":12,"value":-0.38,"err":0.03},{"angle":14,"value":-0.24,"err":0.03},{"angle":16,"value":-0.22,"err":0.03},{"angle":18,"value":-0.2,"err":0.03},{"angle":20,"value":-0.22,"err":0.03},{"angle":25,"value":-0.24,"err":0.03},{"angle":30,"value":-0.42,"err":0.03},{"angle":35,"value":-0.57,"err":0.03},{"angle":40,"value":-0.72,"err":0.03},{"angle":45,"value":-0.72,"err":0.03},{"angle":50,"value":-0.67,"err":0.03},{"angle":55,"value":-0.49,"err":0.03},{"angle":60,"value":-0.16,"err":0.04},{"angle":65,"value":0.15,"err":0.05},{"angle":70,"value":0.33,"err":0.06},{"angle":75,"value":0.35,"err":0.06},{"angle":80,"value":-0.02,"err":0.04},{"angle":85,"value":-0.22,"err":0.04},{"angle":90,"value":-0.53,"err":0.04},{"angle":95,"value":-0.67,"err":0.04},{"angle":100,"value":-0.67,"err":0.05},{"angle":105,"value":-0.83,"err":0.05},{"angle":110,"value":-0.72,"err":0.06},{"angle":115,"value":-0.83,"err":0.06},{"angle":120,"value":-0.77,"err":0.06},{"angle":125,"value":-0.75,"err":0.06},{"angle":130,"value":-0.72,"err":0.05},{"angle":135,"value":-0.67,"err":0.05},{"angle":140,"value":-0.61,"err":0.05}
 ],
 "p3_0": [
  {"angle":0,"value":-0.02,"model":"CCC"},{"angle":5,"value":-0.12,"model":"CCC"},{"angle":10,"value":-0.26,"model":"CCC"},{"angle":15,"value":-0.42,"model":"CCC"},{"angle":20,"value":-0.6,"model":"CCC"},{"angle":25,"value":-0.75,"model":"CCC"},{"angle":30,"value":-0.88,"model":"CCC"},{"angle":35,"value":-0.94,"model":"CCC"},{"angle":40,"value":-0.92,"model":"CCC"},{"angle":45,"value":-0.76,"model":"CCC"},{"angle":50,"value":-0.52,"model":"CCC"},{"angle":55,"value":-0.3,"model":"CCC"},{"angle":60,"value":-0.04,"model":"CCC"},{"angle":65,"value":0.24,"model":"CCC"},{"angle":70,"value":0.5,"model":"CCC"},{"angle":75,"value":0.76,"model":"CCC"},{"angle":79,"value":0.94,"model":"CCC"},{"angle":82,"value":1.0,"model":"CCC"},{"angle":85,"value":0.96,"model":"CCC"},{"angle":90,"value":0.88,"model":"CCC"},{"angle":100,"value":0.75,"model":"CCC"},{"angle":110,"value":0.65,"model":"CCC"},{"angle":120,"value":0.59,"model":"CCC"},{"angle":130,"value":0.54,"model":"CCC"},{"angle":140,"value":0.42,"model":"CCC"},{"angle":150,"value":0.29,"model":"CCC"},{"angle":160,"value":0.17,"model":"CCC"},{"angle":170,"value":0.07,"model":"CCC"},{"angle":180,"value":0.0,"model":"CCC"},
  {"angle":0,"value":-0.02,"model":"CC"},{"angle":5,"value":-0.12,"model":"CC"},{"angle":10,"value":-0.25,"model":"CC"},{"angle":15,"value":-0.4,"model":"CC"},{"angle":20,"value":-0.57,"model":"CC"},{"angle":25,"value":-0.73,"model":"CC"},{"angle":30,"value":-0.88,"model":"CC"},{"angle":35,"value":-0.92,"model":"CC"},{"angle":40,"value":-0.8,"model":"CC"},{"angle":45,"value":-0.66,"model":"CC"},{"angle":50,"value":-0.63,"model":"CC"},{"angle":55,"value":-0.64,"model":"CC"},{"angle":60,"value":-0.66,"model":"CC"},{"angle":65,"value":-0.69,"model":"CC"},{"angle":68,"value":-0.6,"model":"CC"},{"angle":70,"value":-0.45,"model":"CC"},{"angle":72,"value":-0.15,"model":"CC"},{"angle":74,"value":0.3,"model":"CC"},{"angle":76,"value":0.65,"model":"CC"},{"angle":78,"value":0.9,"model":"CC"},{"angle":80,"value":0.92,"model":"CC"},{"angle":83,"value":0.76,"model":"CC"},{"angle":87,"value":0.58,"model":"CC"},{"angle":92,"value":0.5,"model":"CC"},{"angle":100,"value":0.46,"model":"CC"},{"angle":110,"value":0.48,"model":"CC"},{"angle":120,"value":0.53,"model":"CC"},{"angle":130,"value":0.56,"model":"CC"},{"angle":140,"value":0.54,"model":"CC"},{"angle":150,"value":0.5,"model":"CC"},{"angle":160,"value":0.42,"model":"CC"},{"angle":170,"value":0.28,"model":"CC"},{"angle":176,"value":0.15,"model":"CC"},{"angle":180,"value":0.02,"model":"CC"}
 ],
 "p3_1": [
  {"angle":0,"value":-0.02,"model":"CCC"},{"angle":5,"value":-0.12,"model":"CCC"},{"angle":9,"value":-0.23,"model":"CCC"},{"angle":14,"value":-0.4,"model":"CCC"},{"angle":18,"value":-0.56,"model":"CCC"},{"angle":22,"value":-0.7,"model":"CCC"},{"angle":26,"value":-0.82,"model":"CCC"},{"angle":29,"value":-0.87,"model":"CCC"},{"angle":32,"value":-0.83,"model":"CCC"},{"angle":35,"value":-0.72,"model":"CCC"},{"angle":39,"value":-0.6,"model":"CCC"},{"angle":43,"value":-0.53,"model":"CCC"},{"angle":48,"value":-0.48,"model":"CCC"},{"angle":53,"value":-0.46,"model":"CCC"},{"angle":57,"value":-0.42,"model":"CCC"},{"angle":60,"value":-0.3,"model":"CCC"},{"angle":63,"value":-0.08,"model":"CCC"},{"angle":66,"value":0.18,"model":"CCC"},{"angle":69,"value":0.44,"model":"CCC"},{"angle":72,"value":0.68,"model":"CCC"},{"angle":75,"value":0.86,"model":"CCC"},{"angle":78,"value":0.97,"model":"CCC"},{"angle":81,"value":1.0,"model":"CCC"},{"angle":85,"value":0.96,"model":"CCC"},{"angle":90,"value":0.88,"model":"CCC"},{"angle":95,"value":0.8,"model":"CCC"},{"angle":102,"value":0.7,"model":"CCC"},{"angle":110,"value":0.6,"model":"CCC"},{"angle":120,"value":0.5,"model":"CCC"},{"angle":130,"value":0.42,"model":"CCC"},{"angle":140,"value":0.35,"model":"CCC"},{"angle":150,"value":0.27,"model":"CCC"},{"angle":160,"value":0.18,"model":"CCC"},{"angle":170,"value":0.1,"model":"CCC"},{"angle":180,"value":0.02,"model":"CCC"},
  {"angle":0,"value":-0.02,"model":"CC"},{"angle":5,"value":-0.12,"model":"CC"},{"angle":9,"value":-0.23,"model":"CC"},{"angle":14,"value":-0.4,"model":"CC"},{"angle":18,"value":-0.56,"model":"CC"},{"angle":22,"value":-0.7,"model":"CC"},{"angle":26,"value":-0.82,"model":"CC"},{"angle":29,"value":-0.87,"model":"CC"},{"angle":32,"value":-0.83,"model":"CC"},{"angle":35,"value":-0.73,"model":"CC"},{"angle":39,"value":-0.61,"model":"CC"},{"angle":43,"value":-0.55,"model":"CC"},{"angle":48,"value":-0.5,"model":"CC"},{"angle":53,"value":-0.48,"model":"CC"},{"angle":57,"value":-0.44,"model":"CC"},{"angle":60,"value":-0.32,"model":"CC"},{"angle":63,"value":-0.1,"model":"CC"},{"angle":66,"value":0.16,"model":"CC"},{"angle":69,"value":0.43,"model":"CC"},{"angle":72,"value":0.67,"model":"CC"},{"angle":75,"value":0.86,"model":"CC"},{"angle":78,"value":0.97,"model":"CC"},{"angle":81,"value":1.0,"model":"CC"},{"angle":85,"value":0.97,"model":"CC"},{"angle":90,"value":0.9,"model":"CC"},{"angle":95,"value":0.82,"model":"CC"},{"angle":102,"value":0.73,"model":"CC"},{"angle":110,"value":0.63,"model":"CC"},{"angle":120,"value":0.53,"model":"CC"},{"angle":130,"value":0.45,"model":"CC"},{"angle":140,"value":0.38,"model":"CC"},{"angle":150,"value":0.31,"model":"CC"},{"angle":160,"value":0.22,"model":"CC"},{"angle":170,"value":0.12,"model":"CC"},{"angle":180,"value":0.02,"model":"CC"}
 ],
 "p3_w": [
  {"angle":0,"value":-0.02,"model":"CCC"},{"angle":5,"value":-0.12,"model":"CCC"},{"angle":9,"value":-0.23,"model":"CCC"},{"angle":14,"value":-0.38,"model":"CCC"},{"angle":18,"value":-0.47,"model":"CCC"},{"angle":22,"value":-0.62,"model":"CCC"},{"angle":26,"value":-0.77,"model":"CCC"},{"angle":29,"value":-0.85,"model":"CCC"},{"angle":31,"value":-0.87,"model":"CCC"},{"angle":34,"value":-0.78,"model":"CCC"},{"angle":38,"value":-0.64,"model":"CCC"},{"angle":42,"value":-0.54,"model":"CCC"},{"angle":46,"value":-0.47,"model":"CCC"},{"angle":51,"value":-0.44,"model":"CCC"},{"angle":56,"value":-0.42,"model":"CCC"},{"angle":60,"value":-0.34,"model":"CCC"},{"angle":63,"value":-0.18,"model":"CCC"},{"angle":66,"value":0.12,"model":"CCC"},{"angle":69,"value":0.45,"model":"CCC"},{"angle":72,"value":0.7,"model":"CCC"},{"angle":75,"value":0.88,"model":"CCC"},{"angle":78,"value":0.97,"model":"CCC"},{"angle":81,"value":1.0,"model":"CCC"},{"angle":85,"value":0.98,"model":"CCC"},{"angle":90,"value":0.92,"model":"CCC"},{"angle":95,"value":0.83,"model":"CCC"},{"angle":100,"value":0.74,"model":"CCC"},{"angle":107,"value":0.64,"model":"CCC"},{"angle":113,"value":0.57,"model":"CCC"},{"angle":120,"value":0.5,"model":"CCC"},{"angle":130,"value":0.43,"model":"CCC"},{"angle":140,"value":0.36,"model":"CCC"},{"angle":150,"value":0.27,"model":"CCC"},{"angle":160,"value":0.18,"model":"CCC"},{"angle":170,"value":0.1,"model":"CCC"},{"angle":180,"value":0.02,"model":"CCC"},
  {"angle":0,"value":-0.02,"model":"CC"},{"angle":5,"value":-0.12,"model":"CC"},{"angle":9,"value":-0.23,"model":"CC"},{"angle":14,"value":-0.38,"model":"CC"},{"angle":18,"value":-0.48,"model":"CC"},{"angle":22,"value":-0.63,"model":"CC"},{"angle":26,"value":-0.78,"model":"CC"},{"angle":29,"value":-0.86,"model":"CC"},{"angle":31,"value":-0.88,"model":"CC"},{"angle":34,"value":-0.8,"model":"CC"},{"angle":38,"value":-0.67,"model":"CC"},{"angle":42,"value":-0.58,"model":"CC"},{"angle":46,"value":-0.52,"model":"CC"},{"angle":51,"value":-0.5,"model":"CC"},{"angle":56,"value":-0.48,"model":"CC"},{"angle":60,"value":-0.42,"model":"CC"},{"angle":63,"value":-0.26,"model":"CC"},{"angle":66,"value":0.05,"model":"CC"},{"angle":69,"value":0.4,"model":"CC"},{"angle":72,"value":0.67,"model":"CC"},{"angle":75,"value":0.86,"model":"CC"},{"angle":78,"value":0.96,"model":"CC"},{"angle":81,"value":0.99,"model":"CC"},{"angle":85,"value":0.97,"model":"CC"},{"angle":90,"value":0.92,"model":"CC"},{"angle":95,"value":0.84,"model":"CC"},{"angle":100,"value":0.76,"model":"CC"},{"angle":107,"value":0.67,"model":"CC"},{"angle":113,"value":0.6,"model":"CC"},{"angle":120,"value":0.54,"model":"CC"},{"angle":130,"value":0.47,"model":"CC"},{"angle":140,"value":0.41,"model":"CC"},{"angle":150,"value":0.33,"model":"CC"},{"angle":160,"value":0.24,"model":"CC"},{"angle":170,"value":0.14,"model":"CC"},{"angle":180,"value":0.02,"model":"CC"}
 ],
 "ex_p3": [
  {"angle":3,"value":-0.08,"err":0.03},{"angle":7.5,"value":-0.2,"err":0.03},{"angle":10,"value":-0.26,"err":0.03},{"angle":12,"value":-0.31,"err":0.03},{"angle":14,"value":-0.36,"err":0.03},{"angle":16,"value":-0.41,"err":0.03},{"angle":18,"value":-0.46,"err":0.03},{"angle":20,"value":-0.55,"err":0.03},{"angle":25,"value":-0.79,"err":0.03},{"angle":30,"value":-0.85,"err":0.03},{"angle":35,"value":-0.72,"err":0.03},{"angle":40,"value":-0.59,"err":0.03},{"angle":45,"value":-0.52,"err":0.03},{"angle":50,"value":-0.47,"err":0.03},{"angle":55,"value":-0.37,"err":0.03},{"angle":60,"value":-0.26,"err":0.03},{"angle":65,"value":0.1,"err":0.04},{"angle":70,"value":0.51,"err":0.04},{"angle":75,"value":0.83,"err":0.04},{"angle":80,"value":0.96,"err":0.03},{"angle":85,"value":0.93,"err":0.03},{"angle":90,"value":0.89,"err":0.03},{"angle":95,"value":0.81,"err":0.03},{"angle":100,"value":0.73,"err":0.03},{"angle":105,"value":0.66,"err":0.03},{"angle":110,"value":0.61,"err":0.03},{"angle":115,"value":0.56,"err":0.03},{"angle":120,"value":0.51,"err":0.03},{"angle":125,"value":0.43,"err":0.03},{"angle":130,"value":0.38,"err":0.03},{"angle":135,"value":0.33,"err":0.03},{"angle":140,"value":0.3,"err":0.03}
 ]
},
"columns": 3,
"spacing": {"row": 8, "column": 11.5},
"bounds": "flush",
"align": "each",
"resolve": {"scale": {"color": "independent", "strokeDash": "independent"}, "legend": {"color": "independent", "strokeDash": "independent"}},
"concat": [
 {"width": 140, "height": 84,
  "layer": [
   {"data": {"name": "cs0"}, "mark": {"type": "line", "strokeWidth": 1, "clip": true},
    "encoding": {
     "x": {"field": "angle", "type": "quantitative", "scale": {"domain": [0, 180], "nice": false}, "axis": {"values": [0,10,20,30,40,50,60,70,80,90,100,110,120,130,140,150,160,170,180], "labels": false, "title": null}},
     "y": {"field": "value", "type": "quantitative", "scale": {"type": "log", "domain": [0.01, 1000], "nice": false}, "axis": {"values": [0.01,0.02,0.03,0.04,0.05,0.06,0.07,0.08,0.09,0.1,0.2,0.3,0.4,0.5,0.6,0.7,0.8,0.9,1,2,3,4,5,6,7,8,9,10,20,30,40,50,60,70,80,90,100,200,300,400,500,600,700,800,900,1000], "labelExpr": "indexof([0.01,0.1,1,10,100,1000], datum.value) >= 0 ? (datum.value >= 1 ? format(datum.value, 'd') : format(datum.value, '.2~f')) : ''", "tickSize": {"condition": {"test": "indexof([0.01,0.1,1,10,100,1000], datum.value) >= 0", "value": -4}, "value": -2}, "labelPadding": 7, "title": "cross section (a.u.)", "titleX": -28}},
     "color": {"field": "model", "type": "nominal", "scale": {"domain": ["CCC", "CC"], "range": ["#808080", "#ff6f6f"]}, "legend": {"title": "S=0", "symbolType": "M-2.86,0H2.86", "encode": {"title": {"update": {"dx": {"value": -5.5}}}}}},
     "strokeDash": {"field": "model", "type": "nominal", "scale": {"domain": ["CCC", "CC"], "range": [[1, 0], [3, 2]]}, "legend": {"title": "S=0", "symbolType": "M-2.86,0H2.86", "encode": {"title": {"update": {"dx": {"value": -5.5}}}}}}
    }},
   {"data": {"name": "cs0"}, "mark": {"type": "point", "opacity": 0, "clip": true},
    "encoding": {
     "x": {"field": "angle", "type": "quantitative", "axis": {"orient": "top", "values": [0,10,20,30,40,50,60,70,80,90,100,110,120,130,140,150,160,170,180], "labels": false, "title": null}},
     "y": {"field": "value", "type": "quantitative", "axis": {"orient": "right", "values": [0.01,0.02,0.03,0.04,0.05,0.06,0.07,0.08,0.09,0.1,0.2,0.3,0.4,0.5,0.6,0.7,0.8,0.9,1,2,3,4,5,6,7,8,9,10,20,30,40,50,60,70,80,90,100,200,300,400,500,600,700,800,900,1000], "labels": false, "title": null, "tickSize": {"condition": {"test": "indexof([0.01,0.1,1,10,100,1000], datum.value) >= 0", "value": -4}, "value": -2}}}
    }},
   {"data": {"values": [{}]}, "mark": {"type": "text", "align": "left", "baseline": "middle", "font": "Liberation Mono", "fontSize": 7, "color": "#a0a0a0"},
    "encoding": {"x": {"datum": 20, "axis": null}, "y": {"datum": 170, "axis": null}, "text": {"value": "22eV"}}}
  ],
  "resolve": {"axis": {"x": "independent", "y": "independent"}}},
 {"width": 162, "height": 84,
  "layer": [
   {"data": {"name": "cs1"}, "mark": {"type": "line", "strokeWidth": 1, "clip": true},
    "encoding": {
     "x": {"field": "angle", "type": "quantitative", "scale": {"domain": [0, 180], "nice": false}, "axis": {"values": [0,10,20,30,40,50,60,70,80,90,100,110,120,130,140,150,160,170,180], "labels": false, "title": null}},
     "y": {"field": "value", "type": "quantitative", "scale": {"type": "log", "domain": [0.01, 1000], "nice": false}, "axis": {"values": [0.01,0.02,0.03,0.04,0.05,0.06,0.07,0.08,0.09,0.1,0.2,0.3,0.4,0.5,0.6,0.7,0.8,0.9,1,2,3,4,5,6,7,8,9,10,20,30,40,50,60,70,80,90,100,200,300,400,500,600,700,800,900,1000], "labels": false, "tickSize": {"condition": {"test": "indexof([0.01,0.1,1,10,100,1000], datum.value) >= 0", "value": -4}, "value": -2}, "title": null}},
     "color": {"field": "model", "type": "nominal", "scale": {"domain": ["CCC", "CC"], "range": ["#808080", "#ff6f6f"]}, "legend": {"title": "S=1", "symbolType": "M-2.86,0H2.86", "encode": {"title": {"update": {"dx": {"value": -7}}}}}},
     "strokeDash": {"field": "model", "type": "nominal", "scale": {"domain": ["CCC", "CC"], "range": [[1, 0], [3, 2]]}, "legend": {"title": "S=1", "symbolType": "M-2.86,0H2.86", "encode": {"title": {"update": {"dx": {"value": -7}}}}}}
    }},
   {"data": {"name": "cs1"}, "mark": {"type": "point", "opacity": 0, "clip": true},
    "encoding": {
     "x": {"field": "angle", "type": "quantitative", "axis": {"orient": "top", "values": [0,10,20,30,40,50,60,70,80,90,100,110,120,130,140,150,160,170,180], "labels": false, "title": null}},
     "y": {"field": "value", "type": "quantitative", "axis": {"orient": "right", "values": [0.01,0.02,0.03,0.04,0.05,0.06,0.07,0.08,0.09,0.1,0.2,0.3,0.4,0.5,0.6,0.7,0.8,0.9,1,2,3,4,5,6,7,8,9,10,20,30,40,50,60,70,80,90,100,200,300,400,500,600,700,800,900,1000], "labels": false, "title": null, "tickSize": {"condition": {"test": "indexof([0.01,0.1,1,10,100,1000], datum.value) >= 0", "value": -4}, "value": -2}}}
    }}
  ],
  "resolve": {"axis": {"x": "independent", "y": "independent"}}},
 {"width": 162, "height": 84,
  "layer": [
   {"data": {"name": "csw"}, "mark": {"type": "line", "strokeWidth": 1, "clip": true},
    "encoding": {
     "x": {"field": "angle", "type": "quantitative", "scale": {"domain": [0, 180], "nice": false}, "axis": {"values": [0,10,20,30,40,50,60,70,80,90,100,110,120,130,140,150,160,170,180], "labels": false, "title": null}},
     "y": {"field": "value", "type": "quantitative", "scale": {"type": "log", "domain": [0.01, 1000], "nice": false}, "axis": {"values": [0.01,0.02,0.03,0.04,0.05,0.06,0.07,0.08,0.09,0.1,0.2,0.3,0.4,0.5,0.6,0.7,0.8,0.9,1,2,3,4,5,6,7,8,9,10,20,30,40,50,60,70,80,90,100,200,300,400,500,600,700,800,900,1000], "labels": false, "tickSize": {"condition": {"test": "indexof([0.01,0.1,1,10,100,1000], datum.value) >= 0", "value": -4}, "value": -2}, "title": null}},
     "color": {"field": "model", "type": "nominal", "scale": {"domain": ["CCC", "CC", "experiment"], "range": ["#808080", "#ff6f6f", "#000000"]}, "legend": {"title": "S-weighted", "symbolType": "M-2.86,0H2.86", "encode": {"title": {"update": {"dx": {"value": -29.5}}}, "symbols": {"update": {"shape": {"signal": "datum.value === 'experiment' ? 'M-0.45,-0.45H0.45V0.45H-0.45Z' : 'M-2.86,0H2.86'"}, "fill": {"signal": "datum.value === 'experiment' ? '#000' : 'transparent'"}}}}}},
     "strokeDash": {"field": "model", "type": "nominal", "scale": {"domain": ["CCC", "CC", "experiment"], "range": [[1, 0], [3, 2], [1, 0]]}, "legend": {"title": "S-weighted", "symbolType": "M-2.86,0H2.86", "encode": {"title": {"update": {"dx": {"value": -29.5}}}, "symbols": {"update": {"shape": {"signal": "datum.value === 'experiment' ? 'M-0.45,-0.45H0.45V0.45H-0.45Z' : 'M-2.86,0H2.86'"}, "fill": {"signal": "datum.value === 'experiment' ? '#000' : 'transparent'"}}}}}}
    }},
   {"data": {"name": "csw"}, "mark": {"type": "point", "opacity": 0, "clip": true},
    "encoding": {
     "x": {"field": "angle", "type": "quantitative", "axis": {"orient": "top", "values": [0,10,20,30,40,50,60,70,80,90,100,110,120,130,140,150,160,170,180], "labels": false, "title": null}},
     "y": {"field": "value", "type": "quantitative", "axis": {"orient": "right", "values": [0.01,0.02,0.03,0.04,0.05,0.06,0.07,0.08,0.09,0.1,0.2,0.3,0.4,0.5,0.6,0.7,0.8,0.9,1,2,3,4,5,6,7,8,9,10,20,30,40,50,60,70,80,90,100,200,300,400,500,600,700,800,900,1000], "labels": false, "title": null, "tickSize": {"condition": {"test": "indexof([0.01,0.1,1,10,100,1000], datum.value) >= 0", "value": -4}, "value": -2}}}
    }},
   {"data": {"name": "ex_cs"}, "mark": {"type": "square", "size": 9, "opacity": 1},
    "encoding": {"x": {"field": "angle", "type": "quantitative", "axis": null}, "y": {"field": "value", "type": "quantitative", "axis": null}, "color": {"datum": "experiment"}}}
  ],
  "resolve": {"axis": {"x": "independent", "y": "independent"}}},

 {"width": 140, "height": 83,
  "layer": [
   {"data": {"name": "p1_0"}, "mark": {"type": "line", "strokeWidth": 1, "clip": true},
    "encoding": {
     "x": {"field": "angle", "type": "quantitative", "scale": {"domain": [0, 180], "nice": false}, "axis": {"values": [0,10,20,30,40,50,60,70,80,90,100,110,120,130,140,150,160,170,180], "labels": false, "title": null}},
     "y": {"field": "value", "type": "quantitative", "scale": {"domain": [-1, 1], "nice": false}, "axis": {"values": [-1,-0.9,-0.8,-0.7,-0.6,-0.5,-0.4,-0.3,-0.2,-0.1,0,0.1,0.2,0.3,0.4,0.5,0.6,0.7,0.8,0.9,1], "labelExpr": "abs(datum.value * 2 - round(datum.value * 2)) < 0.001 ? replace(format(datum.value, '.1f'), '\u2212', '-') : ''", "title": "P\u2081", "titleX": -25}},
     "color": {"field": "model", "type": "nominal", "scale": {"domain": ["CCC", "CC"], "range": ["#808080", "#ff6f6f"]}, "legend": null},
     "strokeDash": {"field": "model", "type": "nominal", "scale": {"domain": ["CCC", "CC"], "range": [[1, 0], [2, 2]]}, "legend": null}
    }},
   {"data": {"name": "p1_0"}, "mark": {"type": "point", "opacity": 0, "clip": true},
    "encoding": {
     "x": {"field": "angle", "type": "quantitative", "axis": {"orient": "top", "values": [0,10,20,30,40,50,60,70,80,90,100,110,120,130,140,150,160,170,180], "labels": false, "title": null}},
     "y": {"field": "value", "type": "quantitative", "axis": {"orient": "right", "values": [-1,-0.9,-0.8,-0.7,-0.6,-0.5,-0.4,-0.3,-0.2,-0.1,0,0.1,0.2,0.3,0.4,0.5,0.6,0.7,0.8,0.9,1], "labels": false, "title": null}}
    }},
   {"data": {"values": [{}]}, "mark": {"type": "rule", "color": "#c8c8c8", "strokeDash": [1, 2], "strokeWidth": 1},
    "encoding": {"y": {"datum": 0, "axis": null}}}
  ],
  "resolve": {"axis": {"x": "independent", "y": "independent"}}},
 {"width": 162, "height": 83,
  "layer": [
   {"data": {"name": "p1_1"}, "mark": {"type": "line", "strokeWidth": 1, "clip": true},
    "encoding": {
     "x": {"field": "angle", "type": "quantitative", "scale": {"domain": [0, 180], "nice": false}, "axis": {"values": [0,10,20,30,40,50,60,70,80,90,100,110,120,130,140,150,160,170,180], "labels": false, "title": null}},
     "y": {"field": "value", "type": "quantitative", "scale": {"domain": [-1, 1], "nice": false}, "axis": {"values": [-1,-0.9,-0.8,-0.7,-0.6,-0.5,-0.4,-0.3,-0.2,-0.1,0,0.1,0.2,0.3,0.4,0.5,0.6,0.7,0.8,0.9,1], "labels": false, "title": null}},
     "color": {"field": "model", "type": "nominal", "scale": {"domain": ["CCC", "CC"], "range": ["#808080", "#ff6f6f"]}, "legend": null},
     "strokeDash": {"field": "model", "type": "nominal", "scale": {"domain": ["CCC", "CC"], "range": [[1, 0], [2, 2]]}, "legend": null}
    }},
   {"data": {"name": "p1_1"}, "mark": {"type": "point", "opacity": 0, "clip": true},
    "encoding": {
     "x": {"field": "angle", "type": "quantitative", "axis": {"orient": "top", "values": [0,10,20,30,40,50,60,70,80,90,100,110,120,130,140,150,160,170,180], "labels": false, "title": null}},
     "y": {"field": "value", "type": "quantitative", "axis": {"orient": "right", "values": [-1,-0.9,-0.8,-0.7,-0.6,-0.5,-0.4,-0.3,-0.2,-0.1,0,0.1,0.2,0.3,0.4,0.5,0.6,0.7,0.8,0.9,1], "labels": false, "title": null}}
    }},
   {"data": {"values": [{}]}, "mark": {"type": "rule", "color": "#c8c8c8", "strokeDash": [1, 2], "strokeWidth": 1},
    "encoding": {"y": {"datum": 0, "axis": null}}}
  ],
  "resolve": {"axis": {"x": "independent", "y": "independent"}}},
 {"width": 162, "height": 83,
  "layer": [
   {"data": {"name": "p1_w"}, "mark": {"type": "line", "strokeWidth": 1, "clip": true},
    "encoding": {
     "x": {"field": "angle", "type": "quantitative", "scale": {"domain": [0, 180], "nice": false}, "axis": {"values": [0,10,20,30,40,50,60,70,80,90,100,110,120,130,140,150,160,170,180], "labels": false, "title": null}},
     "y": {"field": "value", "type": "quantitative", "scale": {"domain": [-1, 1], "nice": false}, "axis": {"values": [-1,-0.9,-0.8,-0.7,-0.6,-0.5,-0.4,-0.3,-0.2,-0.1,0,0.1,0.2,0.3,0.4,0.5,0.6,0.7,0.8,0.9,1], "labels": false, "title": null}},
     "color": {"field": "model", "type": "nominal", "scale": {"domain": ["CCC", "CC"], "range": ["#808080", "#ff6f6f"]}, "legend": null},
     "strokeDash": {"field": "model", "type": "nominal", "scale": {"domain": ["CCC", "CC"], "range": [[1, 0], [2, 2]]}, "legend": null}
    }},
   {"data": {"name": "p1_w"}, "mark": {"type": "point", "opacity": 0, "clip": true},
    "encoding": {
     "x": {"field": "angle", "type": "quantitative", "axis": {"orient": "top", "values": [0,10,20,30,40,50,60,70,80,90,100,110,120,130,140,150,160,170,180], "labels": false, "title": null}},
     "y": {"field": "value", "type": "quantitative", "axis": {"orient": "right", "values": [-1,-0.9,-0.8,-0.7,-0.6,-0.5,-0.4,-0.3,-0.2,-0.1,0,0.1,0.2,0.3,0.4,0.5,0.6,0.7,0.8,0.9,1], "labels": false, "title": null}}
    }},
   {"data": {"values": [{}]}, "mark": {"type": "rule", "color": "#c8c8c8", "strokeDash": [1, 2], "strokeWidth": 1},
    "encoding": {"y": {"datum": 0, "axis": null}}},
   {"data": {"name": "ex_p1"}, "mark": {"type": "errorbar", "color": "#000", "ticks": true, "thickness": 0.8},
    "encoding": {"x": {"field": "angle", "type": "quantitative", "axis": null}, "y": {"field": "value", "type": "quantitative", "axis": null}, "yError": {"field": "err"}}},
   {"data": {"name": "ex_p1"}, "mark": {"type": "square", "size": 9, "color": "#000", "opacity": 1},
    "encoding": {"x": {"field": "angle", "type": "quantitative", "axis": null}, "y": {"field": "value", "type": "quantitative", "axis": null}}}
  ],
  "resolve": {"axis": {"x": "independent", "y": "independent"}}},

 {"width": 140, "height": 83,
  "layer": [
   {"data": {"name": "p2_0"}, "mark": {"type": "line", "strokeWidth": 1, "clip": true},
    "encoding": {
     "x": {"field": "angle", "type": "quantitative", "scale": {"domain": [0, 180], "nice": false}, "axis": {"values": [0,10,20,30,40,50,60,70,80,90,100,110,120,130,140,150,160,170,180], "labels": false, "title": null}},
     "y": {"field": "value", "type": "quantitative", "scale": {"domain": [-1, 1], "nice": false}, "axis": {"values": [-1,-0.9,-0.8,-0.7,-0.6,-0.5,-0.4,-0.3,-0.2,-0.1,0,0.1,0.2,0.3,0.4,0.5,0.6,0.7,0.8,0.9,1], "labelExpr": "abs(datum.value * 2 - round(datum.value * 2)) < 0.001 ? replace(format(datum.value, '.1f'), '\u2212', '-') : ''", "title": "P\u2082", "titleX": -25}},
     "color": {"field": "model", "type": "nominal", "scale": {"domain": ["CCC", "CC"], "range": ["#808080", "#ff6f6f"]}, "legend": null},
     "strokeDash": {"field": "model", "type": "nominal", "scale": {"domain": ["CCC", "CC"], "range": [[1, 0], [2, 2]]}, "legend": null}
    }},
   {"data": {"name": "p2_0"}, "mark": {"type": "point", "opacity": 0, "clip": true},
    "encoding": {
     "x": {"field": "angle", "type": "quantitative", "axis": {"orient": "top", "values": [0,10,20,30,40,50,60,70,80,90,100,110,120,130,140,150,160,170,180], "labels": false, "title": null}},
     "y": {"field": "value", "type": "quantitative", "axis": {"orient": "right", "values": [-1,-0.9,-0.8,-0.7,-0.6,-0.5,-0.4,-0.3,-0.2,-0.1,0,0.1,0.2,0.3,0.4,0.5,0.6,0.7,0.8,0.9,1], "labels": false, "title": null}}
    }},
   {"data": {"values": [{}]}, "mark": {"type": "rule", "color": "#c8c8c8", "strokeDash": [1, 2], "strokeWidth": 1},
    "encoding": {"y": {"datum": 0, "axis": null}}}
  ],
  "resolve": {"axis": {"x": "independent", "y": "independent"}}},
 {"width": 162, "height": 83,
  "layer": [
   {"data": {"name": "p2_1"}, "mark": {"type": "line", "strokeWidth": 1, "clip": true},
    "encoding": {
     "x": {"field": "angle", "type": "quantitative", "scale": {"domain": [0, 180], "nice": false}, "axis": {"values": [0,10,20,30,40,50,60,70,80,90,100,110,120,130,140,150,160,170,180], "labels": false, "title": null}},
     "y": {"field": "value", "type": "quantitative", "scale": {"domain": [-1, 1], "nice": false}, "axis": {"values": [-1,-0.9,-0.8,-0.7,-0.6,-0.5,-0.4,-0.3,-0.2,-0.1,0,0.1,0.2,0.3,0.4,0.5,0.6,0.7,0.8,0.9,1], "labels": false, "title": null}},
     "color": {"field": "model", "type": "nominal", "scale": {"domain": ["CCC", "CC"], "range": ["#808080", "#ff6f6f"]}, "legend": null},
     "strokeDash": {"field": "model", "type": "nominal", "scale": {"domain": ["CCC", "CC"], "range": [[1, 0], [2, 2]]}, "legend": null}
    }},
   {"data": {"name": "p2_1"}, "mark": {"type": "point", "opacity": 0, "clip": true},
    "encoding": {
     "x": {"field": "angle", "type": "quantitative", "axis": {"orient": "top", "values": [0,10,20,30,40,50,60,70,80,90,100,110,120,130,140,150,160,170,180], "labels": false, "title": null}},
     "y": {"field": "value", "type": "quantitative", "axis": {"orient": "right", "values": [-1,-0.9,-0.8,-0.7,-0.6,-0.5,-0.4,-0.3,-0.2,-0.1,0,0.1,0.2,0.3,0.4,0.5,0.6,0.7,0.8,0.9,1], "labels": false, "title": null}}
    }},
   {"data": {"values": [{}]}, "mark": {"type": "rule", "color": "#c8c8c8", "strokeDash": [1, 2], "strokeWidth": 1},
    "encoding": {"y": {"datum": 0, "axis": null}}}
  ],
  "resolve": {"axis": {"x": "independent", "y": "independent"}}},
 {"width": 162, "height": 83,
  "layer": [
   {"data": {"name": "p2_w"}, "mark": {"type": "line", "strokeWidth": 1, "clip": true},
    "encoding": {
     "x": {"field": "angle", "type": "quantitative", "scale": {"domain": [0, 180], "nice": false}, "axis": {"values": [0,10,20,30,40,50,60,70,80,90,100,110,120,130,140,150,160,170,180], "labels": false, "title": null}},
     "y": {"field": "value", "type": "quantitative", "scale": {"domain": [-1, 1], "nice": false}, "axis": {"values": [-1,-0.9,-0.8,-0.7,-0.6,-0.5,-0.4,-0.3,-0.2,-0.1,0,0.1,0.2,0.3,0.4,0.5,0.6,0.7,0.8,0.9,1], "labels": false, "title": null}},
     "color": {"field": "model", "type": "nominal", "scale": {"domain": ["CCC", "CC"], "range": ["#808080", "#ff6f6f"]}, "legend": null},
     "strokeDash": {"field": "model", "type": "nominal", "scale": {"domain": ["CCC", "CC"], "range": [[1, 0], [2, 2]]}, "legend": null}
    }},
   {"data": {"name": "p2_w"}, "mark": {"type": "point", "opacity": 0, "clip": true},
    "encoding": {
     "x": {"field": "angle", "type": "quantitative", "axis": {"orient": "top", "values": [0,10,20,30,40,50,60,70,80,90,100,110,120,130,140,150,160,170,180], "labels": false, "title": null}},
     "y": {"field": "value", "type": "quantitative", "axis": {"orient": "right", "values": [-1,-0.9,-0.8,-0.7,-0.6,-0.5,-0.4,-0.3,-0.2,-0.1,0,0.1,0.2,0.3,0.4,0.5,0.6,0.7,0.8,0.9,1], "labels": false, "title": null}}
    }},
   {"data": {"values": [{}]}, "mark": {"type": "rule", "color": "#c8c8c8", "strokeDash": [1, 2], "strokeWidth": 1},
    "encoding": {"y": {"datum": 0, "axis": null}}},
   {"data": {"name": "ex_p2"}, "mark": {"type": "errorbar", "color": "#000", "ticks": true, "thickness": 0.8},
    "encoding": {"x": {"field": "angle", "type": "quantitative", "axis": null}, "y": {"field": "value", "type": "quantitative", "axis": null}, "yError": {"field": "err"}}},
   {"data": {"name": "ex_p2"}, "mark": {"type": "square", "size": 9, "color": "#000", "opacity": 1},
    "encoding": {"x": {"field": "angle", "type": "quantitative", "axis": null}, "y": {"field": "value", "type": "quantitative", "axis": null}}}
  ],
  "resolve": {"axis": {"x": "independent", "y": "independent"}}},

 {"width": 140, "height": 68,
  "layer": [
   {"data": {"name": "p3_0"}, "mark": {"type": "line", "strokeWidth": 1, "clip": true},
    "encoding": {
     "x": {"field": "angle", "type": "quantitative", "scale": {"domain": [0, 180], "nice": false}, "axis": {"values": [0,10,20,30,40,50,60,70,80,90,100,110,120,130,140,150,160,170,180], "labelExpr": "datum.value % 30 === 0 ? datum.label : ''", "title": null}},
     "y": {"field": "value", "type": "quantitative", "scale": {"domain": [-1, 1], "nice": false}, "axis": {"values": [-1,-0.9,-0.8,-0.7,-0.6,-0.5,-0.4,-0.3,-0.2,-0.1,0,0.1,0.2,0.3,0.4,0.5,0.6,0.7,0.8,0.9,1], "labelExpr": "abs(datum.value * 2 - round(datum.value * 2)) < 0.001 ? replace(format(datum.value, '.1f'), '\u2212', '-') : ''", "title": "P\u2083", "titleX": -25}},
     "color": {"field": "model", "type": "nominal", "scale": {"domain": ["CCC", "CC"], "range": ["#808080", "#ff6f6f"]}, "legend": null},
     "strokeDash": {"field": "model", "type": "nominal", "scale": {"domain": ["CCC", "CC"], "range": [[1, 0], [2, 2]]}, "legend": null}
    }},
   {"data": {"name": "p3_0"}, "mark": {"type": "point", "opacity": 0, "clip": true},
    "encoding": {
     "x": {"field": "angle", "type": "quantitative", "axis": {"orient": "top", "values": [0,10,20,30,40,50,60,70,80,90,100,110,120,130,140,150,160,170,180], "labels": false, "title": null}},
     "y": {"field": "value", "type": "quantitative", "axis": {"orient": "right", "values": [-1,-0.9,-0.8,-0.7,-0.6,-0.5,-0.4,-0.3,-0.2,-0.1,0,0.1,0.2,0.3,0.4,0.5,0.6,0.7,0.8,0.9,1], "labels": false, "title": null}}
    }},
   {"data": {"values": [{}]}, "mark": {"type": "rule", "color": "#c8c8c8", "strokeDash": [1, 2], "strokeWidth": 1},
    "encoding": {"y": {"datum": 0, "axis": null}}}
  ],
  "resolve": {"axis": {"x": "independent", "y": "independent"}}},
 {"width": 162, "height": 68,
  "layer": [
   {"data": {"name": "p3_1"}, "mark": {"type": "line", "strokeWidth": 1, "clip": true},
    "encoding": {
     "x": {"field": "angle", "type": "quantitative", "scale": {"domain": [0, 180], "nice": false}, "axis": {"values": [0,10,20,30,40,50,60,70,80,90,100,110,120,130,140,150,160,170,180], "labelExpr": "datum.value % 30 === 0 ? datum.label : ''", "title": "scattering angle (deg.)", "titlePadding": 4}},
     "y": {"field": "value", "type": "quantitative", "scale": {"domain": [-1, 1], "nice": false}, "axis": {"values": [-1,-0.9,-0.8,-0.7,-0.6,-0.5,-0.4,-0.3,-0.2,-0.1,0,0.1,0.2,0.3,0.4,0.5,0.6,0.7,0.8,0.9,1], "labels": false, "title": null}},
     "color": {"field": "model", "type": "nominal", "scale": {"domain": ["CCC", "CC"], "range": ["#808080", "#ff6f6f"]}, "legend": null},
     "strokeDash": {"field": "model", "type": "nominal", "scale": {"domain": ["CCC", "CC"], "range": [[1, 0], [2, 2]]}, "legend": null}
    }},
   {"data": {"name": "p3_1"}, "mark": {"type": "point", "opacity": 0, "clip": true},
    "encoding": {
     "x": {"field": "angle", "type": "quantitative", "axis": {"orient": "top", "values": [0,10,20,30,40,50,60,70,80,90,100,110,120,130,140,150,160,170,180], "labels": false, "title": null}},
     "y": {"field": "value", "type": "quantitative", "axis": {"orient": "right", "values": [-1,-0.9,-0.8,-0.7,-0.6,-0.5,-0.4,-0.3,-0.2,-0.1,0,0.1,0.2,0.3,0.4,0.5,0.6,0.7,0.8,0.9,1], "labels": false, "title": null}}
    }},
   {"data": {"values": [{}]}, "mark": {"type": "rule", "color": "#c8c8c8", "strokeDash": [1, 2], "strokeWidth": 1},
    "encoding": {"y": {"datum": 0, "axis": null}}}
  ],
  "resolve": {"axis": {"x": "independent", "y": "independent"}}},
 {"width": 162, "height": 68,
  "layer": [
   {"data": {"name": "p3_w"}, "mark": {"type": "line", "strokeWidth": 1, "clip": true},
    "encoding": {
     "x": {"field": "angle", "type": "quantitative", "scale": {"domain": [0, 180], "nice": false}, "axis": {"values": [0,10,20,30,40,50,60,70,80,90,100,110,120,130,140,150,160,170,180], "labelExpr": "datum.value % 30 === 0 ? datum.label : ''", "title": null}},
     "y": {"field": "value", "type": "quantitative", "scale": {"domain": [-1, 1], "nice": false}, "axis": {"values": [-1,-0.9,-0.8,-0.7,-0.6,-0.5,-0.4,-0.3,-0.2,-0.1,0,0.1,0.2,0.3,0.4,0.5,0.6,0.7,0.8,0.9,1], "labels": false, "title": null}},
     "color": {"field": "model", "type": "nominal", "scale": {"domain": ["CCC", "CC"], "range": ["#808080", "#ff6f6f"]}, "legend": null},
     "strokeDash": {"field": "model", "type": "nominal", "scale": {"domain": ["CCC", "CC"], "range": [[1, 0], [2, 2]]}, "legend": null}
    }},
   {"data": {"name": "p3_w"}, "mark": {"type": "point", "opacity": 0, "clip": true},
    "encoding": {
     "x": {"field": "angle", "type": "quantitative", "axis": {"orient": "top", "values": [0,10,20,30,40,50,60,70,80,90,100,110,120,130,140,150,160,170,180], "labels": false, "title": null}},
     "y": {"field": "value", "type": "quantitative", "axis": {"orient": "right", "values": [-1,-0.9,-0.8,-0.7,-0.6,-0.5,-0.4,-0.3,-0.2,-0.1,0,0.1,0.2,0.3,0.4,0.5,0.6,0.7,0.8,0.9,1], "labels": false, "title": null}}
    }},
   {"data": {"values": [{}]}, "mark": {"type": "rule", "color": "#c8c8c8", "strokeDash": [1, 2], "strokeWidth": 1},
    "encoding": {"y": {"datum": 0, "axis": null}}},
   {"data": {"name": "ex_p3"}, "mark": {"type": "errorbar", "color": "#000", "ticks": true, "thickness": 0.8},
    "encoding": {"x": {"field": "angle", "type": "quantitative", "axis": null}, "y": {"field": "value", "type": "quantitative", "axis": null}, "yError": {"field": "err"}}},
   {"data": {"name": "ex_p3"}, "mark": {"type": "square", "size": 9, "color": "#000", "opacity": 1},
    "encoding": {"x": {"field": "angle", "type": "quantitative", "axis": null}, "y": {"field": "value", "type": "quantitative", "axis": null}}}
  ],
  "resolve": {"axis": {"x": "independent", "y": "independent"}}}
]
}
